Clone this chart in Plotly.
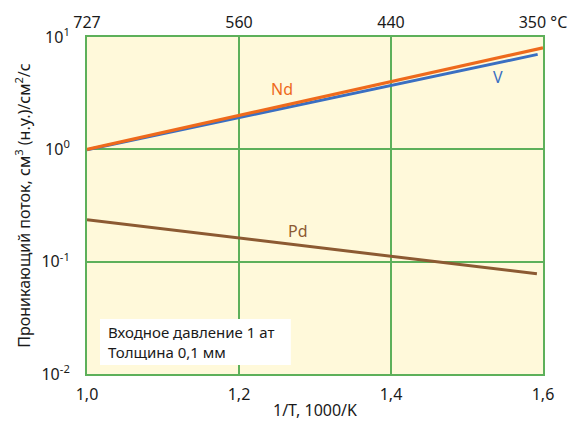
import plotly.graph_objects as go

# Data (1/T in 1000/K, permeation flux)
nd_x = [1.0, 1.6]
nd_y = [1.0, 8.0]
v_x = [1.0, 1.593]
v_y = [0.99, 7.0]
pd_x = [1.0, 1.592]
pd_y = [0.236, 0.078]

x_ticks = [1.0, 1.2, 1.4, 1.6]
x_ticktext = ["1,0", "1,2", "1,4", "1,6"]
top_ticktext = ["727", "560", "440", "350 °C"]
y_ticks = [0.01, 0.1, 1, 10]
y_ticktext = ["10<sup>-2</sup>", "10<sup>-1</sup>", "10<sup>0</sup>", "10<sup>1</sup>"]

GREEN = "#5DB05A"
ORANGE = "#EE6A1C"
BLUE = "#3A6FC2"
BROWN = "#8C5A32"
BG = "#FFF9DA"
FONT = "Noto Sans"

fig = go.Figure()
fig.add_trace(go.Scatter(x=v_x, y=v_y, mode="lines", line=dict(color=BLUE, width=3), showlegend=False))
fig.add_trace(go.Scatter(x=nd_x, y=nd_y, mode="lines", line=dict(color=ORANGE, width=3.2), showlegend=False))
fig.add_trace(go.Scatter(x=pd_x, y=pd_y, mode="lines", line=dict(color=BROWN, width=3), showlegend=False))
# invisible trace on top axis
fig.add_trace(go.Scatter(x=nd_x, y=nd_y, xaxis="x2", mode="lines", line=dict(width=0), opacity=0,
                         showlegend=False, hoverinfo="skip"))

fig.update_layout(
    width=573, height=424,
    margin=dict(l=87, r=30, t=37, b=50),
    paper_bgcolor="white",
    plot_bgcolor=BG,
    font=dict(family=FONT, size=16, color="#1a1a1a"),
    xaxis=dict(
        range=[1.0, 1.6], tickvals=x_ticks, ticktext=x_ticktext, automargin=False,
        showgrid=True, gridcolor=GREEN, gridwidth=2,
        showline=True, linecolor=GREEN, linewidth=2, mirror=True,
        zeroline=False, ticks="", ticklabelstandoff=5,
        title=dict(text="1/T, 1000/K", font=dict(size=16), standoff=1),
    ),
    xaxis2=dict(
        range=[1.0, 1.6], overlaying="x", side="top", tickvals=x_ticks, ticktext=top_ticktext,
        automargin=False, tickfont=dict(size=16),
        showgrid=False, showline=False, zeroline=False, ticks="", ticklabelstandoff=5,
    ),
    yaxis=dict(
        type="log", range=[-2, 1], tickvals=y_ticks, ticktext=y_ticktext, automargin=False,
        showgrid=True, gridcolor=GREEN, gridwidth=2,
        showline=True, linecolor=GREEN, linewidth=2, mirror=True,
        zeroline=False, ticks="", ticklabelstandoff=12,
        title=dict(text="Проникающий поток, см<sup>3</sup> (н.у.)/см<sup>2</sup>/с", font=dict(size=16), standoff=7),
    ),
)

fig.add_shape(type="rect", xref="paper", yref="paper", x0=0.0285, x1=0.447, y0=0.027, y1=0.163,
              fillcolor="white", line=dict(width=0), layer="above")
fig.add_annotation(xref="paper", yref="paper", x=0.042, y=0.095, xanchor="left", yanchor="middle",
                   text="Входное давление 1 ат<br>Толщина 0,1 мм", align="left", showarrow=False,
                   font=dict(size=15, color="#1a1a1a"))

fig.add_annotation(x=1.257, y=0.538, text="Nd", showarrow=False, font=dict(size=16, color=ORANGE))
fig.add_annotation(x=1.541, y=0.644, text="V", showarrow=False, font=dict(size=16, color=BLUE))
fig.add_annotation(x=1.278, y=-0.724, text="Pd", showarrow=False, font=dict(size=16, color=BROWN))

fig.write_html("out.html", config={"displayModeBar": False},
               post_script="document.body.style.margin='0';document.body.style.overflow='hidden';")
